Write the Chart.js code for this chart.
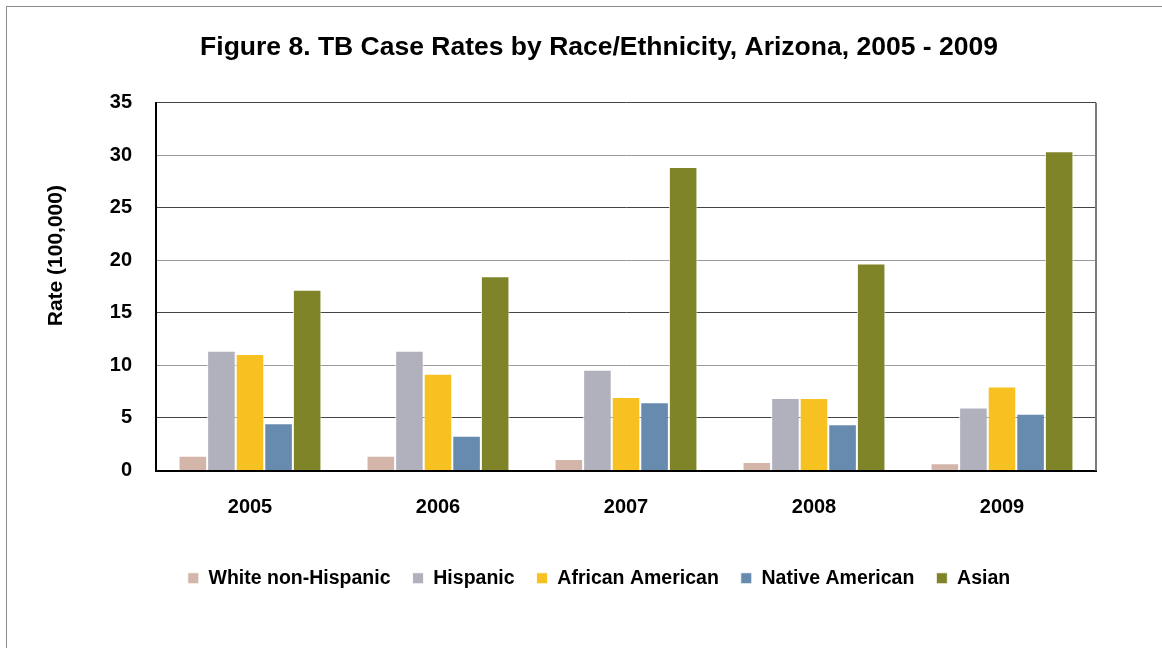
<!DOCTYPE html>
<html>
<head>
<meta charset="utf-8">
<script src="https://cdn.jsdelivr.net/npm/chart.js@4/dist/chart.umd.min.js"></script>
<style>
  html, body { margin: 0; padding: 0; background: #fff; overflow: hidden; }
  #frame { position: absolute; left: 6px; top: 6px; width: 1200px; height: 700px; border: 1px solid #8a8a8a; }
  #wrap { position: absolute; left: 0; top: 0; width: 1162px; height: 648px; }
</style>
</head>
<body>
<div id="frame"></div>
<div id="wrap"><canvas id="c" width="1162" height="648"></canvas></div>
<script>
const categories = ["2005", "2006", "2007", "2008", "2009"];
const seriesNames = ["White non-Hispanic", "Hispanic", "African American", "Native American", "Asian"];
const whiteNonHispanic = [1.4, 1.4, 1.1, 0.8, 0.7];
const hispanic = [11.4, 11.4, 9.6, 6.9, 6.0];
const africanAmerican = [11.1, 9.2, 7.0, 6.9, 8.0];
const nativeAmerican = [4.5, 3.3, 6.5, 4.4, 5.4];
const asian = [17.2, 18.5, 28.9, 19.7, 30.4];
const yTicks = [0, 5, 10, 15, 20, 25, 30, 35];
const colors = ["#D3B5A9", "#B1B1BD", "#F7C221", "#668BAE", "#808428"];

const seriesValues = [whiteNonHispanic, hispanic, africanAmerican, nativeAmerican, asian];
const FONT = "'Liberation Sans', Arial, sans-serif";

const decor = {
  id: 'decor',
  afterLayout(chart) {
    const shift = 30;
    if (chart.titleBlock) { chart.titleBlock.left += shift; chart.titleBlock.right += shift; }
    if (chart.legend) { chart.legend.left += shift; chart.legend.right += shift; }
    const y = chart.scales.y;
    if (y && !y._titlePatched) {
      const orig = y.drawTitle.bind(y);
      y.drawTitle = function () {
        const t = this.top;
        this.top = t - 62;
        orig();
        this.top = t;
      };
      y._titlePatched = true;
    }
  },
  afterDatasetsDraw(chart) {
    const a = chart.chartArea, ctx = chart.ctx;
    ctx.save();
    ctx.strokeStyle = '#7a7a7a';
    ctx.lineWidth = 2;
    ctx.beginPath();
    ctx.moveTo(a.right, a.top);
    ctx.lineTo(a.right, a.bottom);
    ctx.stroke();
    ctx.restore();
  }
};

new Chart(document.getElementById('c'), {
  type: 'bar',
  data: {
    labels: categories,
    datasets: seriesNames.map((n, i) => ({
      label: n,
      data: seriesValues[i],
      backgroundColor: colors[i],
      borderColor: 'rgba(255,255,255,0.85)',
      borderWidth: 1,
      barPercentage: 1.0,
      categoryPercentage: 0.76
    }))
  },
  options: {
    responsive: false,
    animation: false,
    layout: { padding: { left: 42, right: 66, top: 0, bottom: 50 } },
    plugins: {
      title: {
        display: true,
        text: 'Figure 8. TB Case Rates by Race/Ethnicity, Arizona, 2005 - 2009',
        color: '#000',
        font: { family: FONT, size: 26.5, weight: 'bold' },
        padding: { top: 32, bottom: 39 }
      },
      legend: {
        position: 'bottom',
        labels: {
          color: '#000',
          font: { family: FONT, size: 19.5, weight: 'bold' },
          boxWidth: 11,
          boxHeight: 11,
          padding: 22
        }
      },
      tooltip: { enabled: false }
    },
    scales: {
      x: {
        grid: { display: false, drawTicks: false },
        border: { display: true, color: '#000', width: 2 },
        ticks: { color: '#000', font: { family: FONT, size: 20, weight: 'bold' }, padding: 25 },
        afterFit(s) { s.height = 76; }
      },
      y: {
        min: 0, max: 35,
        afterBuildTicks(s) { s.ticks = yTicks.map(v => ({ value: v })); },
        grid: {
          drawTicks: false,
          color: ctx => (ctx.tick && ctx.tick.value % 10 === 5) ? '#444' : '#9a9a9a',
          lineWidth: 1
        },
        border: { display: true, color: '#000', width: 2 },
        ticks: { color: '#000', font: { family: FONT, size: 20, weight: 'bold' }, padding: 24 },
        title: {
          display: true,
          text: 'Rate (100,000)',
          color: '#000',
          font: { family: FONT, size: 21, weight: 'bold' },
          padding: { top: 2, bottom: 0 }
        },
        afterFit(s) { s.width = 114; }
      }
    }
  },
  plugins: [decor]
});
</script>
</body>
</html>
